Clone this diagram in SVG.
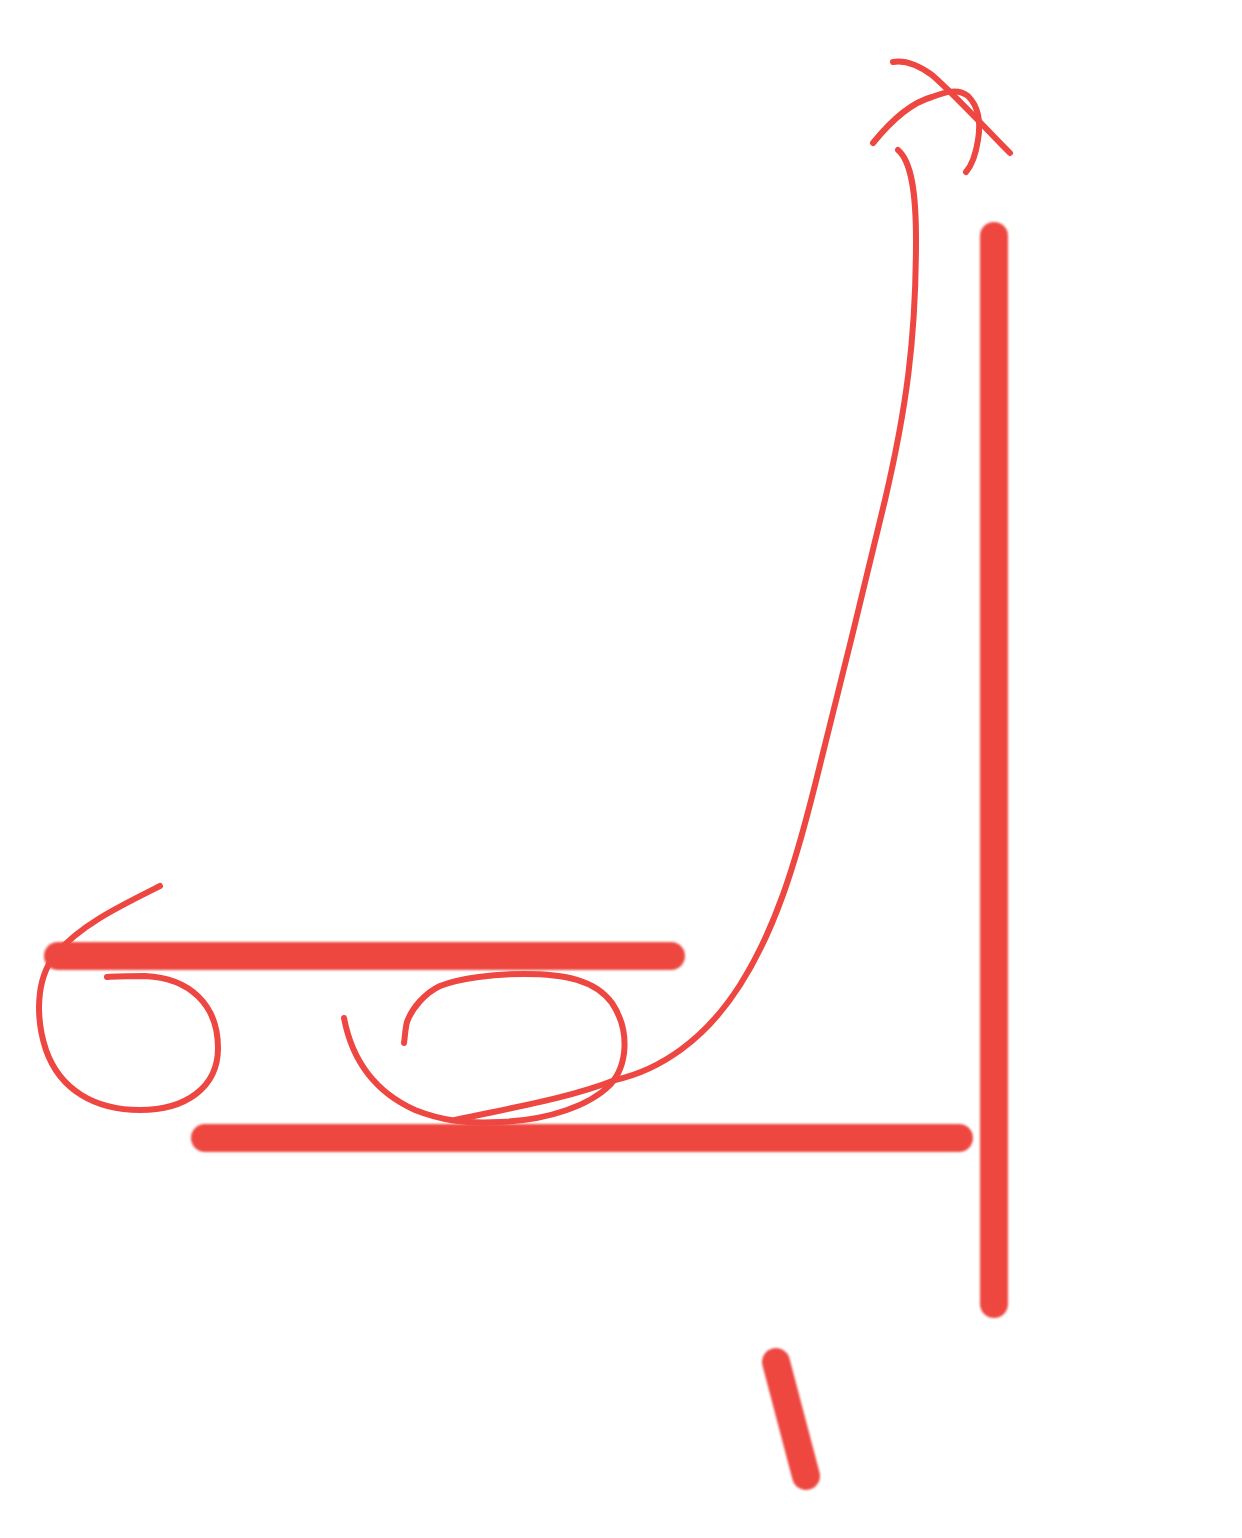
<svg xmlns="http://www.w3.org/2000/svg" width="1242" height="1538" viewBox="0 0 1242 1538">
<defs>
<style>
.thick{fill:none;stroke:#ee4640;stroke-width:28;stroke-linecap:round;filter:url(#soft)}
.thin{fill:none;stroke:#ee4640;stroke-width:6;stroke-linecap:round;stroke-linejoin:round}
</style>
<filter id="soft" filterUnits="userSpaceOnUse" x="0" y="0" width="1242" height="1538"><feGaussianBlur stdDeviation="1.2"/></filter>
</defs>
<rect width="1242" height="1538" fill="#ffffff"/>
<g id="bars">
<line class="thick" x1="994" y1="236" x2="994" y2="1304"/>
<line class="thick" x1="58" y1="956" x2="671" y2="956"/>
<line class="thick" x1="205" y1="1138" x2="959" y2="1138"/>
<line class="thick" x1="776" y1="1362" x2="806" y2="1476"/>
</g>
<g id="strokes">
<path class="thin" d="M898,150 C912,162 916,195 916,240 C916,340 906,410 885,500 C865,585 835,705 815,785 C795,865 775,930 740,985 C705,1040 660,1070 615,1080 C570,1098 510,1108 455,1120"/>
<path class="thin" d="M160,886 C120,906 80,925 55,955 C35,980 36,1020 46,1050 C60,1090 95,1110 140,1110 C185,1110 218,1088 218,1048 C218,1005 190,978 145,976 C130,976 118,976 107,977"/>
<path class="thin" d="M344,1018 C352,1060 375,1092 415,1110 C440,1120 465,1124 500,1122 C550,1120 590,1105 610,1085 C628,1065 630,1030 612,1003 C595,980 565,974 524,974 C495,974 460,978 440,986 C425,993 412,1008 407,1022 C405,1030 405,1037 404,1043"/>
<path class="thin" d="M893,62 C905,60 918,65 932,75 C955,95 985,128 1010,153"/>
<path class="thin" d="M873,143 C890,122 910,103 932,97 C945,92 958,88 968,96 C978,106 981,122 978,140 C976,153 972,165 966,172"/>
</g>
</svg>
